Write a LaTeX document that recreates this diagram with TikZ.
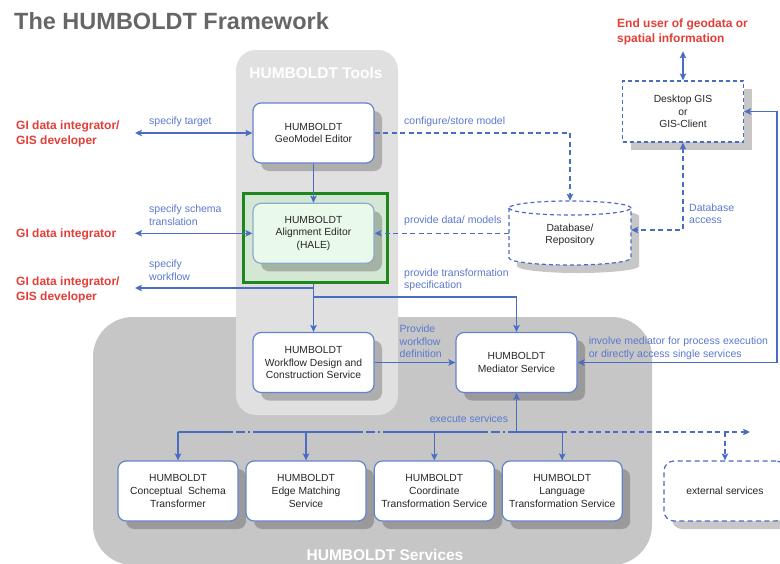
\documentclass[tikz,border=0pt]{standalone}
\usepackage{fontspec}
\setmainfont{Liberation Sans}
\usetikzlibrary{arrows.meta,shadows,calc}
\definecolor{lineblue}{RGB}{74,108,196}
\definecolor{txtblue}{RGB}{90,120,206}
\definecolor{redlab}{RGB}{228,62,55}
\definecolor{toolsgray}{RGB}{224,224,224}
\definecolor{servgray}{RGB}{198,198,198}
\definecolor{titlegray}{RGB}{102,102,102}
\definecolor{boxborder}{RGB}{100,130,205}
\definecolor{halegreen}{RGB}{30,135,30}
\definecolor{halefill}{RGB}{212,230,212}
\definecolor{halenode}{RGB}{234,250,234}
\definecolor{halebd}{RGB}{140,170,205}
\begin{document}
\begin{tikzpicture}[x=1pt,y=-1pt,
  >={Stealth[length=7pt,width=6.5pt,inset=1.5pt]},
  shad/.style={drop shadow={shadow xshift=8pt,shadow yshift=-8pt,opacity=0.22,fill=black}},
  boxtxt/.style={font=\fontsize{10.3}{12.6}\selectfont,text=black!85,align=center},
  box/.style={boxtxt,draw=boxborder,line width=1.2pt,fill=white,rounded corners=8pt,
    minimum width=121pt,minimum height=60pt,inner sep=0pt,shad},
  sbox/.style={box,minimum width=120pt},
  conn/.style={draw=lineblue,line width=1.3pt},
  dsh/.style={dash pattern=on 5pt off 3.5pt},
  lbl/.style={text=txtblue,font=\fontsize{10.5}{12.5}\selectfont,align=left,inner sep=0pt,anchor=west},
  usr/.style={text=redlab,font=\bfseries\fontsize{12}{15}\selectfont,align=left,inner sep=0pt,anchor=west},
  panellab/.style={text=white,font=\bfseries\fontsize{15.5}{18}\selectfont,inner sep=0pt}
]
\useasboundingbox (0,0) rectangle (780,563);
\clip (0,0) rectangle (780,563);

% panels
\path[fill=servgray,rounded corners=40pt] (93,317) rectangle (652,565);
\path[fill=toolsgray,rounded corners=20pt] (236,50) rectangle (398,415);
\node[panellab] (toolslab) at (316,73) {HUMBOLDT Tools};
\node[panellab] (servlab) at (385,555) {HUMBOLDT Services};

% title
\node[anchor=west,inner sep=0pt,text=titlegray,font=\bfseries\fontsize{23.5}{28}\selectfont] (title) at (14,21) {The HUMBOLDT Framework};

% users
\node[usr] (u1) at (16,134) {GI data integrator/\\GIS developer};
\node[usr] (u2) at (16,234) {GI data integrator};
\node[usr] (u3) at (16,289.5) {GI data integrator/\\GIS developer};
\node[usr] (eu) at (617,32) {End user of geodata or\\spatial information};

% tool boxes
\node[box] (geo) at (313.5,133) {HUMBOLDT\\GeoModel Editor};
\node[draw=halegreen,line width=3pt,fill=halefill,minimum width=144pt,minimum height=89pt,inner sep=0pt] (halef) at (315,237.5) {};
\node[box,fill=halenode,draw=halebd] (hale) at (313.5,233.3) {HUMBOLDT\\Alignment Editor\\(HALE)};
\node[box] (wf) at (313.5,362.5) {HUMBOLDT\\Workflow Design and\\Construction Service};
\node[box] (med) at (516.5,362.5) {HUMBOLDT\\Mediator Service};

% service boxes
\node[sbox] (b1) at (178,491) {HUMBOLDT\\Conceptual\ \ Schema\\Transformer};
\node[sbox] (b2) at (306,491) {HUMBOLDT\\Edge Matching\\Service};
\node[sbox] (b3) at (434.3,491) {HUMBOLDT\\Coordinate\\Transformation Service};
\node[sbox] (b4) at (562.2,491) {HUMBOLDT\\Language\\Transformation Service};
\node[boxtxt,draw=lineblue,line width=1.2pt,dsh,fill=white,rounded corners=10pt,minimum width=122pt,minimum height=60pt,inner sep=0pt,shad] (ext) at (725,491) {external services};

% desktop GIS
\node[boxtxt,draw=lineblue,line width=1.2pt,dash pattern=on 4pt off 3pt,fill=white,minimum width=121pt,minimum height=61pt,inner sep=0pt,shad] (gis) at (683,111.5) {Desktop GIS\\or\\GIS-Client};

% database cylinder
\fill[black,opacity=0.22] (517,216) -- (517,266) arc[start angle=180,end angle=360,x radius=61pt,y radius=7pt] -- (639,216) arc[start angle=0,end angle=180,x radius=61pt,y radius=7pt] -- cycle;
\filldraw[fill=white,draw=lineblue,line width=1.2pt,dash pattern=on 4pt off 3pt] (509,208) -- (509,258) arc[start angle=180,end angle=360,x radius=61pt,y radius=7pt] -- (631,208) arc[start angle=0,end angle=180,x radius=61pt,y radius=7pt] -- cycle;
\draw[draw=lineblue,line width=1.2pt,dash pattern=on 4pt off 3pt] (509,208) arc[start angle=180,end angle=360,x radius=61pt,y radius=7pt];
\node[boxtxt,minimum width=122pt,minimum height=68pt,inner sep=0pt] (db) at (570,235) {Database/\\Repository};

% helper coordinates
\coordinate (L) at (135,0);
\coordinate (j1) at (313.5,288);
\coordinate (j2) at (313.5,297);
\coordinate (R) at (777,240);
\coordinate (ex) at (516.5,432);
\coordinate (xo) at (750,432);

% connectors
\draw[conn,<->] (L |- geo.west) -- (geo.west);
\draw[conn,<->] (L |- hale.west) -- (hale.west);
\draw[conn,->] (geo.south) -- (hale.north);
\draw[conn,->] (hale.south |- halef.south) -- (wf.north);
\draw[conn,->] (j1) -- (L |- j1);
\draw[conn,->] (j2) -| (med.north);
\draw[conn,->] (wf.east) -- (med.west);
\draw[conn,dsh,->] (geo.east) -| (db.north);
\draw[conn,dsh,->] (db.west |- hale.east) -- (hale.east);
\draw[conn,dsh,<->] (gis.south) |- ($(db.east)+(0,-5)$);
\draw[conn,<->] ($(gis.north |- eu.south)+(0,6)$) -- (gis.north);
\draw[conn,<->] (gis.east) -| (R) |- (med.east);
\draw[conn,->] (ex) -- (med.south);
\draw[conn] (b1.north |- ex) -- (233,432) (253,432) -- (363,432) (383,432) -- (488,432) (508,432) -- (b4.north |- ex);
\foreach \s in {233,363,488} {
  \draw[conn] (\s+3,432) -- (\s+12,432) (\s+15,432) -- (\s+17,432);
}
\draw[conn,dsh,->] (b4.north |- ex) -- (xo);
\draw[conn,dsh,->] (ext.north |- ex) -- (ext.north);
\foreach \b in {b1,b2,b3,b4} { \draw[conn,->] (\b.north |- ex) -- (\b.north); }

% labels
\node[lbl] (lt1) at (149,122) {specify target};
\node[lbl] (lt2) at (149,215) {specify schema\\translation};
\node[lbl] (lt3) at (149,270) {specify\\workflow};
\node[lbl] (lc1) at (404,122) {configure/store model};
\node[lbl] (lc2) at (404,221) {provide data/ models};
\node[lbl] (lc3) at (404,280) {provide transformation\\specification};
\node[lbl] (lda) at (689,213.5) {Database\\access};
\node[lbl] (lpw) at (399.5,341.5) {Provide\\workflow\\definition};
\node[lbl] (lim) at (588.6,348.5) {involve mediator for process execution\\or directly access single services};
\node[lbl,anchor=center] (lex) at (469,419) {execute services};
\end{tikzpicture}
\end{document}
